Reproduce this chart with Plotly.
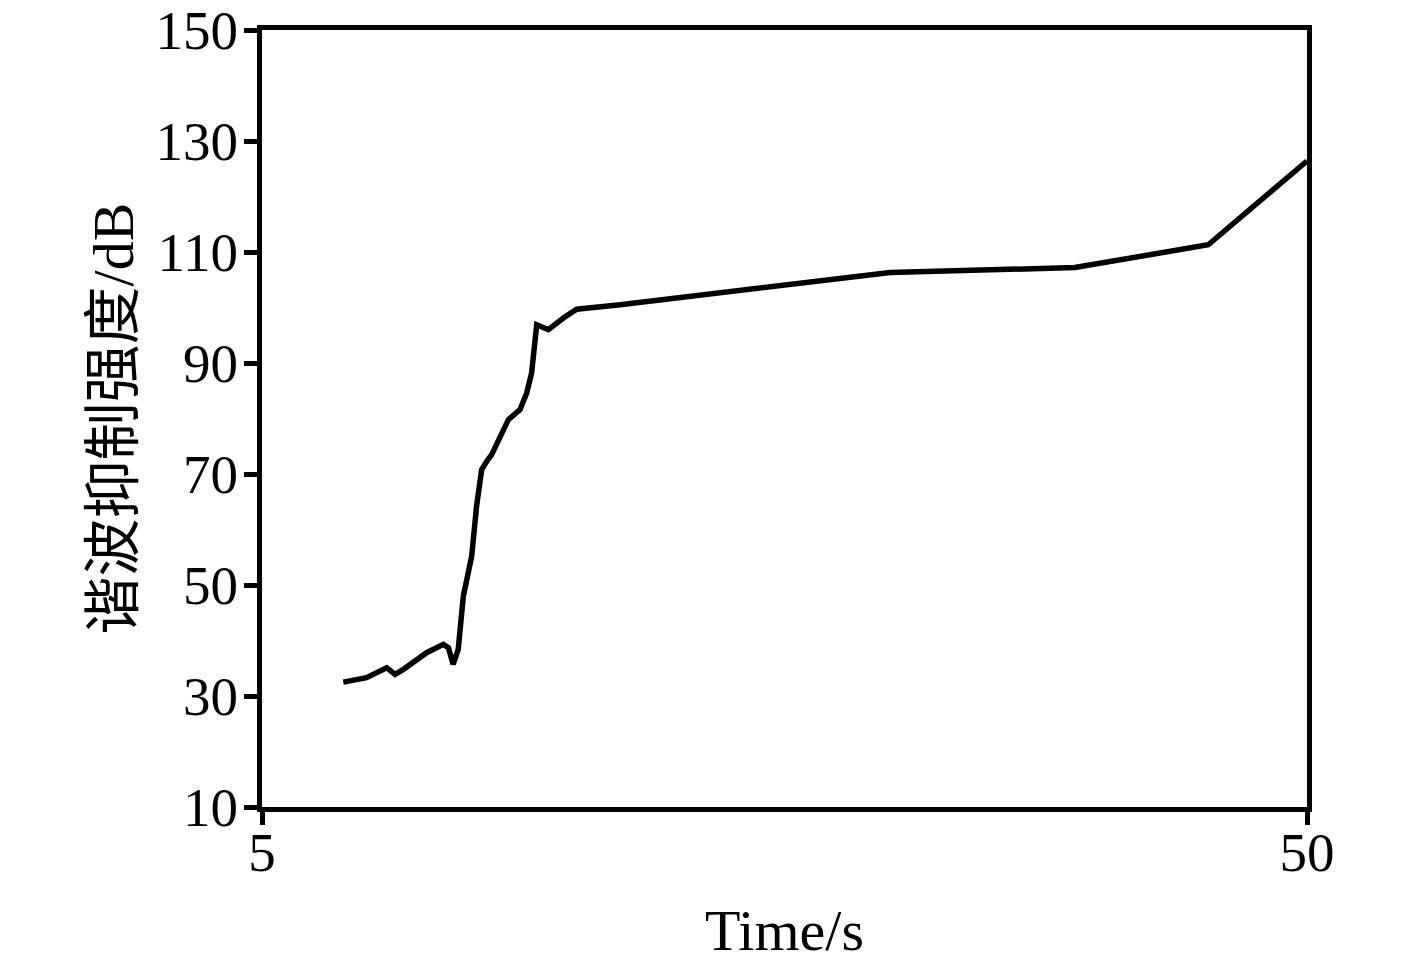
import plotly.graph_objects as go

# Harmonic suppression vs time
time_s = [8.5, 9.5, 10.37, 10.73, 11.09, 12.09, 12.81, 13.03, 13.23, 13.45, 13.67,
          14.03, 14.24, 14.46, 14.68, 14.89, 15.61, 16.11, 16.4, 16.61, 16.83,
          17.33, 17.98, 18.55, 20.42, 32.05, 40.0, 45.75, 50.0]
suppression_db = [32.5, 33.3, 35.1, 33.9, 34.8, 37.8, 39.3, 38.7, 35.7, 38.4, 48.0,
                  55.2, 64.2, 70.8, 72.3, 73.5, 79.8, 81.6, 84.6, 88.2, 96.9,
                  96.0, 98.1, 99.7, 100.5, 106.3, 107.2, 111.3, 126.4]

x_ticks = [5, 50]
y_ticks = [10, 30, 50, 70, 90, 110, 130, 150]

serif = "Liberation Serif, Times New Roman, Noto Sans CJK SC, serif"

fig = go.Figure()
fig.add_trace(go.Scatter(
    x=time_s, y=suppression_db,
    mode='lines',
    line=dict(color='black', width=5.5),
    showlegend=False,
))

axis_common = dict(
    showline=True, linecolor='black', linewidth=5, mirror=True,
    ticks='outside', ticklen=13, tickwidth=5, tickcolor='black',
    showgrid=False, zeroline=False, automargin=False,
    ticklabeloverflow='allow',
    tickfont=dict(family=serif, size=55, color='black'),
)

fig.update_layout(
    xaxis=dict(
        **axis_common,
        range=[5, 50], tickvals=x_ticks, ticklabelstandoff=-20,
        title=dict(text='Time/s', font=dict(family=serif, size=58, color='black'), standoff=30),
    ),
    yaxis=dict(
        **axis_common,
        range=[10, 150], tickvals=y_ticks, ticklabelstandoff=-5,
        title=dict(text='谐波抑制强度/dB', font=dict(family=serif, size=58, color='black'), standoff=5),
    ),
    plot_bgcolor='white',
    paper_bgcolor='white',
    # page body adds an 8px offset, so the figure is sized to end at the window edge
    width=1409,
    height=955,
    margin=dict(l=254, r=110, t=22, b=156, pad=0),
)

fig.write_html("out.html")
